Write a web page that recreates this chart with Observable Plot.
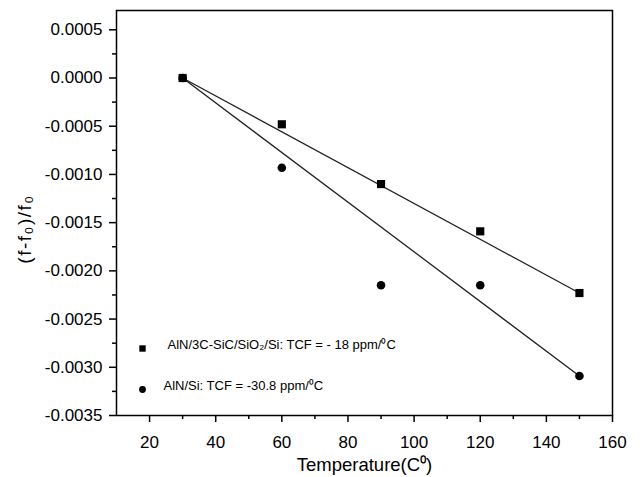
<!DOCTYPE html>
<html>
<head>
<meta charset="utf-8">
<script src="https://cdn.jsdelivr.net/npm/d3@7"></script>
<script src="https://cdn.jsdelivr.net/npm/@observablehq/plot@0.6"></script>
<style>
  html, body { margin: 0; padding: 0; background: #fff; }
  svg { display: block; }
</style>
</head>
<body>
<div id="chart"></div>
<script>
// Data
const temperature = [30, 60, 90, 120, 150];
const seriesSquares = [0, -0.00048, -0.00110, -0.00159, -0.00223];   // AlN/3C-SiC/SiO2/Si
const seriesCircles = [0, -0.00093, -0.00215, -0.00215, -0.00309];   // AlN/Si
const fitX = [30, 150];
const fitSquares = [0, -0.00223];
const fitCircles = [0, -0.00309];
const xTicks = [20, 40, 60, 80, 100, 120, 140, 160];
const xMinor = [30, 50, 70, 90, 110, 130, 150];
const yTicks = [0.0005, 0, -0.0005, -0.0010, -0.0015, -0.0020, -0.0025, -0.0030, -0.0035];
const yMinor = [0.00025, -0.00025, -0.00075, -0.00125, -0.00175, -0.00225, -0.00275, -0.00325];
const legendLabels = ["AlN/3C-SiC/SiO\u2082/Si: TCF = - 18 ppm/\u2070C", "AlN/Si: TCF = -30.8 ppm/\u2070C"];
const xLabel = "Temperature(C\u2070)";
const yLabel = "(f-f\u2080)/f\u2080";

const sq = temperature.map((t, i) => ({t, v: seriesSquares[i]}));
const ci = temperature.map((t, i) => ({t, v: seriesCircles[i]}));
const fitSq = fitX.map((t, i) => ({t, v: fitSquares[i]}));
const fitCi = fitX.map((t, i) => ({t, v: fitCircles[i]}));

const font = "'Liberation Sans', Arial, sans-serif";

const chart = Plot.plot({
  width: 643,
  height: 477,
  marginLeft: 116,
  marginRight: 31,
  marginTop: 10,
  marginBottom: 62,
  style: {fontFamily: font, fontSize: "17px", color: "#000", background: "#fff"},
  x: {domain: [10, 160]},
  y: {domain: [-0.0035, 0.0007]},
  marks: [
    Plot.axisX({ticks: xTicks, tickSize: 7, tickPadding: 13, strokeWidth: 1.5, fontSize: 17, label: null}),
    Plot.axisX({ticks: xMinor, tickSize: 4, tickFormat: () => "", strokeWidth: 1.5, label: null}),
    Plot.axisY({ticks: yTicks, tickSize: 7, tickPadding: 7, strokeWidth: 1.5, fontSize: 17, tickFormat: v => v.toFixed(4), label: null}),
    Plot.axisY({ticks: yMinor, tickSize: 4, tickFormat: () => "", strokeWidth: 1.5, label: null}),
    Plot.frame({stroke: "#000", strokeWidth: 1.5}),
    Plot.line(fitSq, {x: "t", y: "v", stroke: "#222", strokeWidth: 1.3}),
    Plot.line(fitCi, {x: "t", y: "v", stroke: "#222", strokeWidth: 1.3}),
    Plot.dot(sq, {x: "t", y: "v", symbol: "square", r: 4.6, fill: "#000", stroke: "none"}),
    Plot.dot(ci, {x: "t", y: "v", symbol: "circle", r: 4.3, fill: "#000", stroke: "none"}),
    // legend
    Plot.dot([legendLabels[0]], {frameAnchor: "bottom-left", dx: 26, dy: -67, symbol: "square", r: 3.6, fill: "#000", stroke: "none"}),
    Plot.dot([legendLabels[1]], {frameAnchor: "bottom-left", dx: 26, dy: -26, symbol: "circle", r: 3.4, fill: "#000", stroke: "none"}),
    Plot.text([legendLabels[0]], {frameAnchor: "bottom-left", dx: 51, dy: -67, text: d => d, textAnchor: "start", fontSize: 13}),
    Plot.text([legendLabels[1]], {frameAnchor: "bottom-left", dx: 47, dy: -26, text: d => d, textAnchor: "start", fontSize: 13}),
    // axis labels
    Plot.text([xLabel], {frameAnchor: "bottom", dy: 55, text: d => d, fontSize: 18.5}),
    Plot.text([yLabel], {frameAnchor: "left", dx: -92, dy: 16, rotate: -90, textAnchor: "middle", text: d => d, fontSize: 19})
  ]
});
d3.select(chart).selectAll("text").filter(function() { return this.textContent === yLabel; })
  .style("letter-spacing", "1.5px");
document.getElementById("chart").appendChild(chart);
</script>
</body>
</html>
